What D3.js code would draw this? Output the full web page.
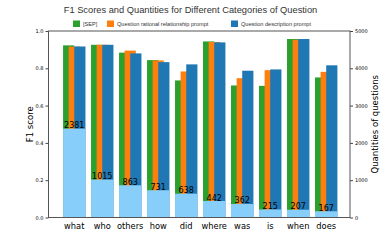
<!DOCTYPE html>
<html>
<head>
<meta charset="utf-8">
<script src="https://cdn.jsdelivr.net/npm/d3@7"></script>
<style>
  body { margin: 0; background: #fff; }
  text { font-family: "DejaVu Sans", sans-serif; }
</style>
</head>
<body>
<div id="chart"></div>
<script>
// chart data
var categories = ["what", "who", "others", "how", "did", "where", "was", "is", "when", "does"];
var sepF1 = [0.923, 0.926, 0.884, 0.844, 0.735, 0.944, 0.708, 0.706, 0.957, 0.751];
var rationalF1 = [0.916, 0.926, 0.895, 0.842, 0.783, 0.941, 0.747, 0.790, 0.953, 0.781];
var descF1 = [0.917, 0.926, 0.880, 0.833, 0.821, 0.939, 0.787, 0.794, 0.957, 0.816];
var quantities = [2381, 1015, 863, 731, 638, 442, 362, 215, 207, 167];
var seriesNames = ["[SEP]", "Question rational relationship prompt", "Question description prompt"];
var leftTicks = [0, 0.2, 0.4, 0.6, 0.8, 1.0];
var rightTicks = [0, 1000, 2000, 3000, 4000, 5000];

var svgWidth = 390, svgHeight = 249;
var margin = { top: 31, right: 40, bottom: 31.5, left: 48.5 };
var chartWidth = svgWidth - margin.left - margin.right;
var chartHeight = svgHeight - margin.top - margin.bottom;

var colors = ["#2ca02c", "#ff7f0e", "#1f77b4"];

var svg = d3.select("#chart").append("svg")
  .attr("width", svgWidth)
  .attr("height", svgHeight);

var chartGroup = svg.append("g")
  .attr("transform", `translate(${margin.left}, ${margin.top})`);

// scales
var xScale = d3.scaleLinear().domain([-0.92, 9.85]).range([0, chartWidth]);
var yLeft = d3.scaleLinear().domain([0, 1]).range([chartHeight, 0]);
var yRight = d3.scaleLinear().domain([0, 5000]).range([chartHeight, 0]);
var unit = xScale(1) - xScale(0);

// F1 bars: width 0.4 each at offsets -0.2, 0, +0.2
var series = [sepF1, rationalF1, descF1];
series.forEach(function(vals, s) {
  chartGroup.append("g").selectAll("rect")
    .data(vals)
    .enter()
    .append("rect")
    .attr("x", (d, i) => xScale(i + (s - 1) * 0.2 - 0.2))
    .attr("width", unit * 0.4)
    .attr("y", d => yLeft(d))
    .attr("height", d => chartHeight - yLeft(d))
    .attr("fill", colors[s]);
});

// quantity bars on the twin axis
chartGroup.append("g").selectAll("rect")
  .data(quantities)
  .enter()
  .append("rect")
  .attr("x", (d, i) => xScale(i - 0.4))
  .attr("width", unit * 0.8)
  .attr("y", d => yRight(d))
  .attr("height", d => chartHeight - yRight(d))
  .attr("fill", "#87cefa");

chartGroup.append("g").selectAll("text")
  .data(quantities)
  .enter()
  .append("text")
  .attr("x", (d, i) => xScale(i))
  .attr("y", d => yRight(d) - 0.5)
  .attr("text-anchor", "middle")
  .attr("font-size", "8px")
  .attr("fill", "#000")
  .text(d => d);

// axes
var leftAxis = d3.axisLeft(yLeft).tickValues(leftTicks).tickFormat(d3.format(".1f")).tickSize(3).tickPadding(2);
var rightAxis = d3.axisRight(yRight).tickValues(rightTicks).tickFormat(d3.format("d")).tickSize(3).tickPadding(2);

var gl = chartGroup.append("g").call(leftAxis);
var gr = chartGroup.append("g").attr("transform", `translate(${chartWidth}, 0)`).call(rightAxis);
[gl, gr].forEach(function(g) {
  g.select(".domain").remove();
  g.selectAll("line").attr("stroke", "#444");
  g.selectAll("text").attr("font-size", "5px").attr("fill", "#000");
});

// frame
chartGroup.append("rect")
  .attr("width", chartWidth)
  .attr("height", chartHeight)
  .attr("fill", "none")
  .attr("stroke", "#555")
  .attr("stroke-width", 1);

// x labels
chartGroup.append("g").selectAll("text")
  .data(categories)
  .enter()
  .append("text")
  .attr("x", (d, i) => xScale(i))
  .attr("y", chartHeight + 11)
  .attr("text-anchor", "middle")
  .attr("font-size", "8.3px")
  .attr("fill", "#000")
  .text(d => d);

// axis labels
chartGroup.append("text")
  .attr("transform", `translate(-16, ${chartHeight / 2}) rotate(-90)`)
  .attr("text-anchor", "middle")
  .attr("font-size", "8.5px")
  .text("F1 score");

chartGroup.append("text")
  .attr("transform", `translate(${chartWidth + 28}, ${chartHeight / 2}) rotate(-90)`)
  .attr("text-anchor", "middle")
  .attr("font-size", "8.5px")
  .text("Quantities of questions");

// title
svg.append("text")
  .attr("x", 190.5)
  .attr("y", 13.3)
  .attr("text-anchor", "middle")
  .attr("font-size", "9.3px")
  .style("font-family", "'Liberation Sans', Arial, sans-serif")
  .attr("fill", "#333")
  .text("F1 Scores and Quantities for Different Categories of Question");

// legend
var legendX = [73, 107, 231];
var legend = svg.append("g");
seriesNames.forEach(function(name, s) {
  legend.append("rect")
    .attr("x", legendX[s])
    .attr("y", 20.5)
    .attr("width", 7)
    .attr("height", 6.5)
    .attr("fill", colors[s]);
  legend.append("text")
    .attr("x", legendX[s] + 10)
    .attr("y", 26)
    .attr("font-size", "5.6px")
    .style("font-family", "'Liberation Sans', Arial, sans-serif")
    .attr("fill", "#333")
    .text(name);
});
</script>
</body>
</html>
